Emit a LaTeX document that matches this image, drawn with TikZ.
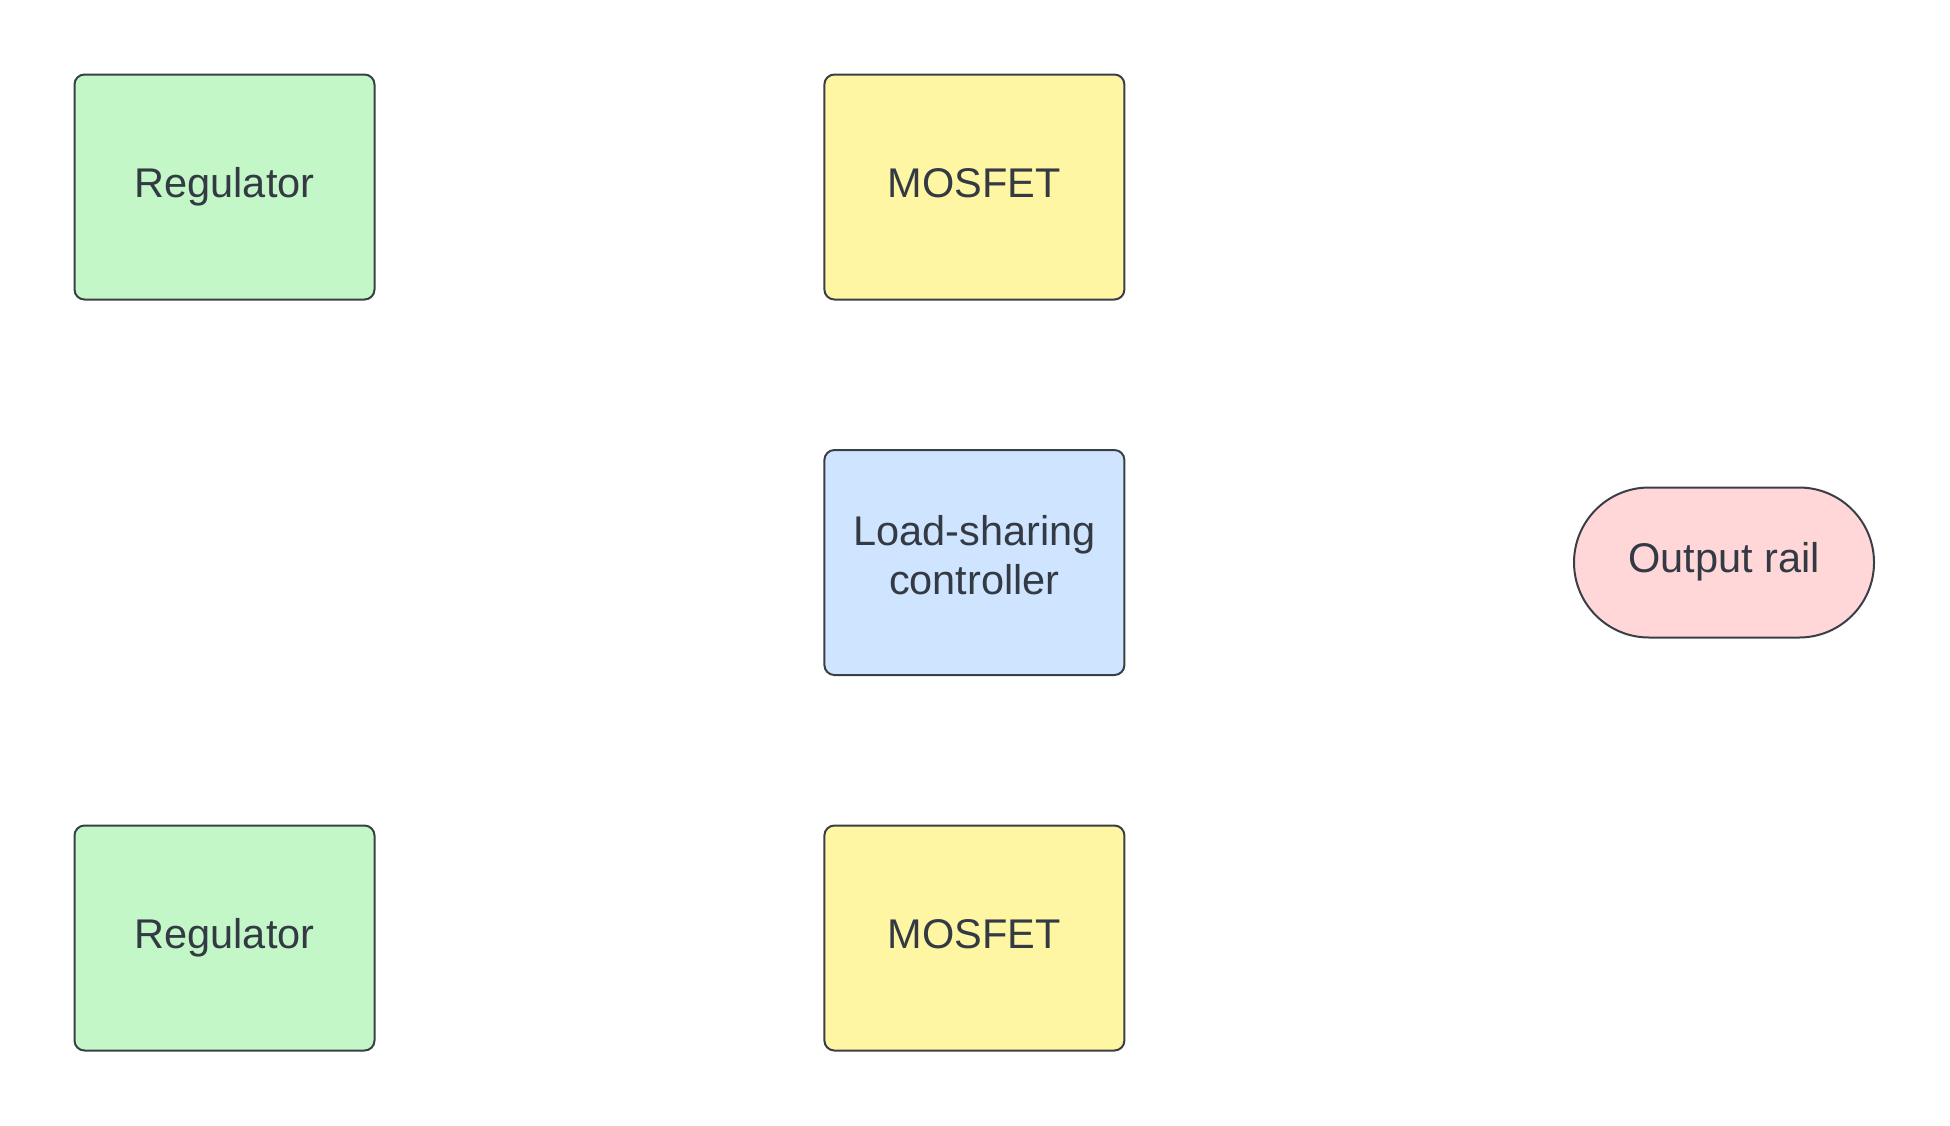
\documentclass[tikz,border=0pt]{standalone}
\usepackage{fontspec}
\setmainfont{Liberation Sans}
\usetikzlibrary{shapes.misc}
\definecolor{edgecol}{HTML}{3A3F47}
\definecolor{txtcol}{HTML}{333A44}
\definecolor{greenfill}{HTML}{C3F7C8}
\definecolor{yellowfill}{HTML}{FFF6A3}
\definecolor{bluefill}{HTML}{CFE4FF}
\definecolor{pinkfill}{HTML}{FFD7D9}
\tikzset{
  box/.style={draw=edgecol, line width=2pt, rounded corners=10pt,
    minimum width=300pt, minimum height=225pt, inner sep=0pt,
    align=center, text=txtcol, font=\fontsize{41.5}{50}\selectfont},
  pill/.style={draw=edgecol, line width=2pt, rounded rectangle,
    minimum width=300pt, minimum height=150pt, inner sep=0pt,
    align=center, text=txtcol, font=\fontsize{41.5}{50}\selectfont},
  oneline/.style={text height=30pt, text depth=10pt},
}
\begin{document}
\begin{tikzpicture}[x=1pt,y=1pt]
\useasboundingbox[fill=white] (0,0) rectangle (1950,-1125);
\node[box, oneline, fill=greenfill] (reg1) at (224.5,-187) {Regulator};
\node[box, oneline, fill=greenfill] (reg2) at (224.5,-938) {Regulator};
\node[box, oneline, fill=yellowfill] (mos1) at (974.4,-187) {MOSFET};
\node[box, oneline, fill=yellowfill] (mos2) at (974.4,-938) {MOSFET};
\node[box, fill=bluefill, text height=0pt, text depth=0pt] (ctrl) at (974.4,-562.5) {\raisebox{-4pt}[0pt][0pt]{\begin{tabular}{@{}c@{}}Load-sharing\\[-1pt]controller\end{tabular}}};
\node[pill, oneline, fill=pinkfill] (out) at (1724,-562.5) {Output rail};
\end{tikzpicture}
\end{document}
